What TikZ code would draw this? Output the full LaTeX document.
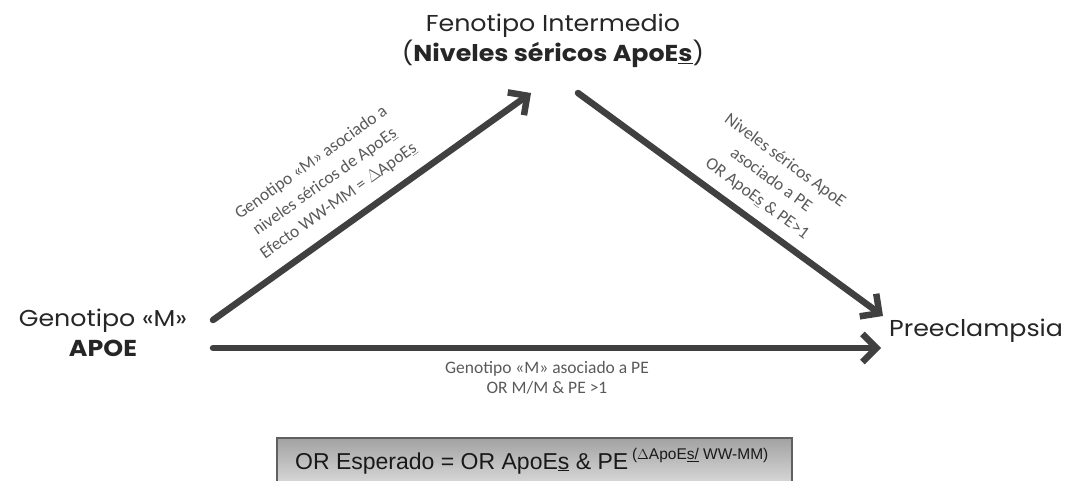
\documentclass[tikz,border=0pt]{standalone}
\usepackage{fontspec}
\setmainfont{Liberation Sans}
\newfontfamily\gothic[FakeStretch=1.1]{Poppins}
\newfontfamily\calfont{Carlito}
\newfontfamily\arialfont{Liberation Sans}
\usetikzlibrary{arrows.meta}
\definecolor{arrgray}{HTML}{404040}
\definecolor{labgray}{HTML}{5A5A5A}
\definecolor{boxtop}{HTML}{A2A2A2}
\definecolor{boxbot}{HTML}{E2E2E2}
\definecolor{boxline}{HTML}{606060}
\tikzset{
  conn/.style={line width=6.5pt, draw=arrgray, line cap=round,
    -{Straight Barb[length=14pt,width=28pt,line width=6.5pt]}},
  title/.style={font=\gothic\fontsize{23}{30}\selectfont, text=black!85, align=center, inner sep=0pt},
  lab/.style={font=\calfont\fontsize{17.5}{23.5}\selectfont, text=labgray, align=center, inner sep=0pt},
  lab3/.style={font=\calfont\fontsize{17.5}{20}\selectfont, text=labgray, align=center, inner sep=0pt},
}
\begin{document}
\begin{tikzpicture}[x=1pt,y=-1pt]
\useasboundingbox (0,0) rectangle (1072,480);
% nodes
\node[title] (fen) at (553,41) {Fenotipo Intermedio\\(\textbf{Niveles séricos ApoE\underline{s}})};
\node[title] (gen) at (103,333) {Genotipo «M»\\\textbf{APOE}};
\node[title, anchor=west] (pre) at (889,331) {Preeclampsia};
% arrow end points
\coordinate (a1s) at (213,320);
\coordinate (a1e) at (531,93);
\coordinate (a2s) at (578,93);
\coordinate (a2e) at (883,316);
\coordinate (a3s) at (213,348);
\coordinate (a3e) at (881,348);
\draw[conn] (a1s) -- (a1e);
\draw[conn] (a2s) -- (a2e);
\draw[conn] (a3s) -- (a3e);
% labels
\node[lab, rotate=35.5] (l1) at (325,182) {Genotipo «M» asociado a\\niveles séricos de ApoE\underline{s}\\Efecto WW-MM = $\Delta$ApoE\underline{s}};
\node[lab, rotate=-36.4] (l2) at (771,180) {Niveles séricos ApoE\\asociado a PE\\OR ApoE\underline{s} \& PE>1};
\node[lab3] (l3) at (547,378) {Genotipo «M» asociado a PE\\OR M/M \& PE >1};
% formula box
\shade[top color=boxtop, bottom color=boxbot] (277,438) rectangle (792,492);
\draw[boxline, line width=1.2pt] (277,492) -- (277,438) -- (792,438) -- (792,492);
\node[font=\arialfont\fontsize{23}{26}\selectfont, text=black!90, inner sep=0pt, anchor=west] (box) at (295,461)
  {OR Esperado = OR ApoE\underline{s} \& PE\,\raisebox{0.42em}{\fontsize{15.5}{17}\selectfont($\Delta$ApoE\underline{s/} WW-MM)}};
\end{tikzpicture}
\end{document}
